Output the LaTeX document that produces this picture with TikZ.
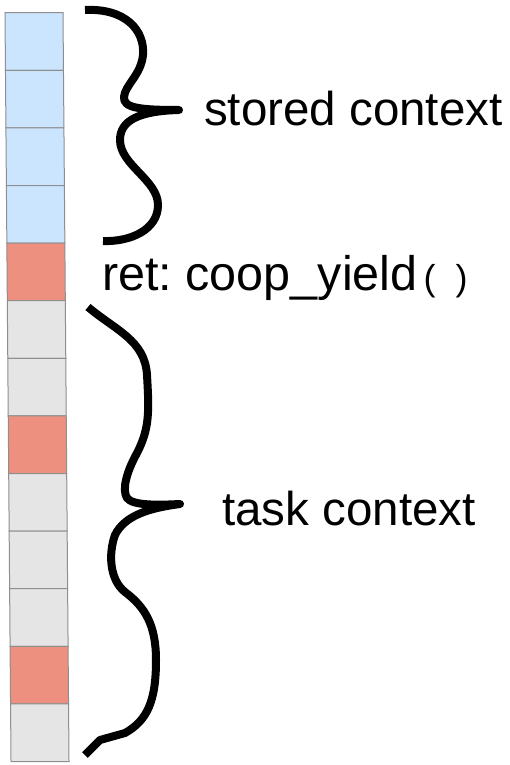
\documentclass[tikz,border=0pt]{standalone}
\usepackage{fontspec}
\setmainfont{Liberation Sans}
\definecolor{ctxblue}{HTML}{CCE5FF}
\definecolor{retred}{HTML}{EE9080}
\definecolor{taskgray}{HTML}{E5E5E5}
\definecolor{cellborder}{HTML}{8E8E8E}
\begin{document}
\frenchspacing
\begin{tikzpicture}[x=1pt,y=-1pt,
  cell/.style={draw=cellborder, line width=1pt, minimum width=58pt,
    minimum height=57.6pt, inner sep=0pt, outer sep=0pt, anchor=north west},
  brace/.style={line width=8pt, line join=round, line cap=butt},
  label/.style={font=\fontsize{47.5}{57}\selectfont, anchor=base west, inner sep=0pt}]
\useasboundingbox (0,0) rectangle (509,765);

% stack of frames, leaning slightly to the right towards the bottom
\begin{scope}[xslant=-0.00802, transform shape]
\foreach \c [count=\i from 0] in {ctxblue,ctxblue,ctxblue,ctxblue,retred,taskgray,taskgray,retred,taskgray,taskgray,taskgray,retred,taskgray}
  \node[cell, fill=\c] (cell\i) at (4.9, 12.7+57.6*\i) {};
\end{scope}

% brace over the stored context
\draw[brace] (85,10) .. controls (125,8) and (145,30) .. (143,55)
  .. controls (141,75) and (125,85) .. (124,97)
  .. controls (123,108) and (140,110) .. (179,110)
  .. controls (140,111) and (120,120) .. (120,140)
  .. controls (120,165) and (158,180) .. (158,205)
  .. controls (158,230) and (130,242) .. (103,241);

% brace over the task context
\draw[brace] (88,307) .. controls (115,330) and (145,340) .. (147,375)
  .. controls (149,410) and (150,428) .. (137,453)
  .. controls (126,473) and (122,490) .. (127,498)
  .. controls (133,506) and (160,505) .. (180,504)
  .. controls (150,508) and (125,515) .. (115,535)
  .. controls (108,555) and (110,580) .. (125,592)
  .. controls (145,607) and (156,625) .. (156,660)
  .. controls (156,700) and (148,720) .. (125,733)
  -- (100,740) -- (85,755);

\node[label] (stored) at (204,125) {stored context};
\node[label, font=\fontsize{48.5}{58}\selectfont] (ret) at (102,290)
  {ret: coop\_yield\hspace{6pt}{\fontsize{36}{40}\selectfont(\hspace{20pt})}};
\node[label] (task) at (222,525) {task context};
\end{tikzpicture}
\end{document}
